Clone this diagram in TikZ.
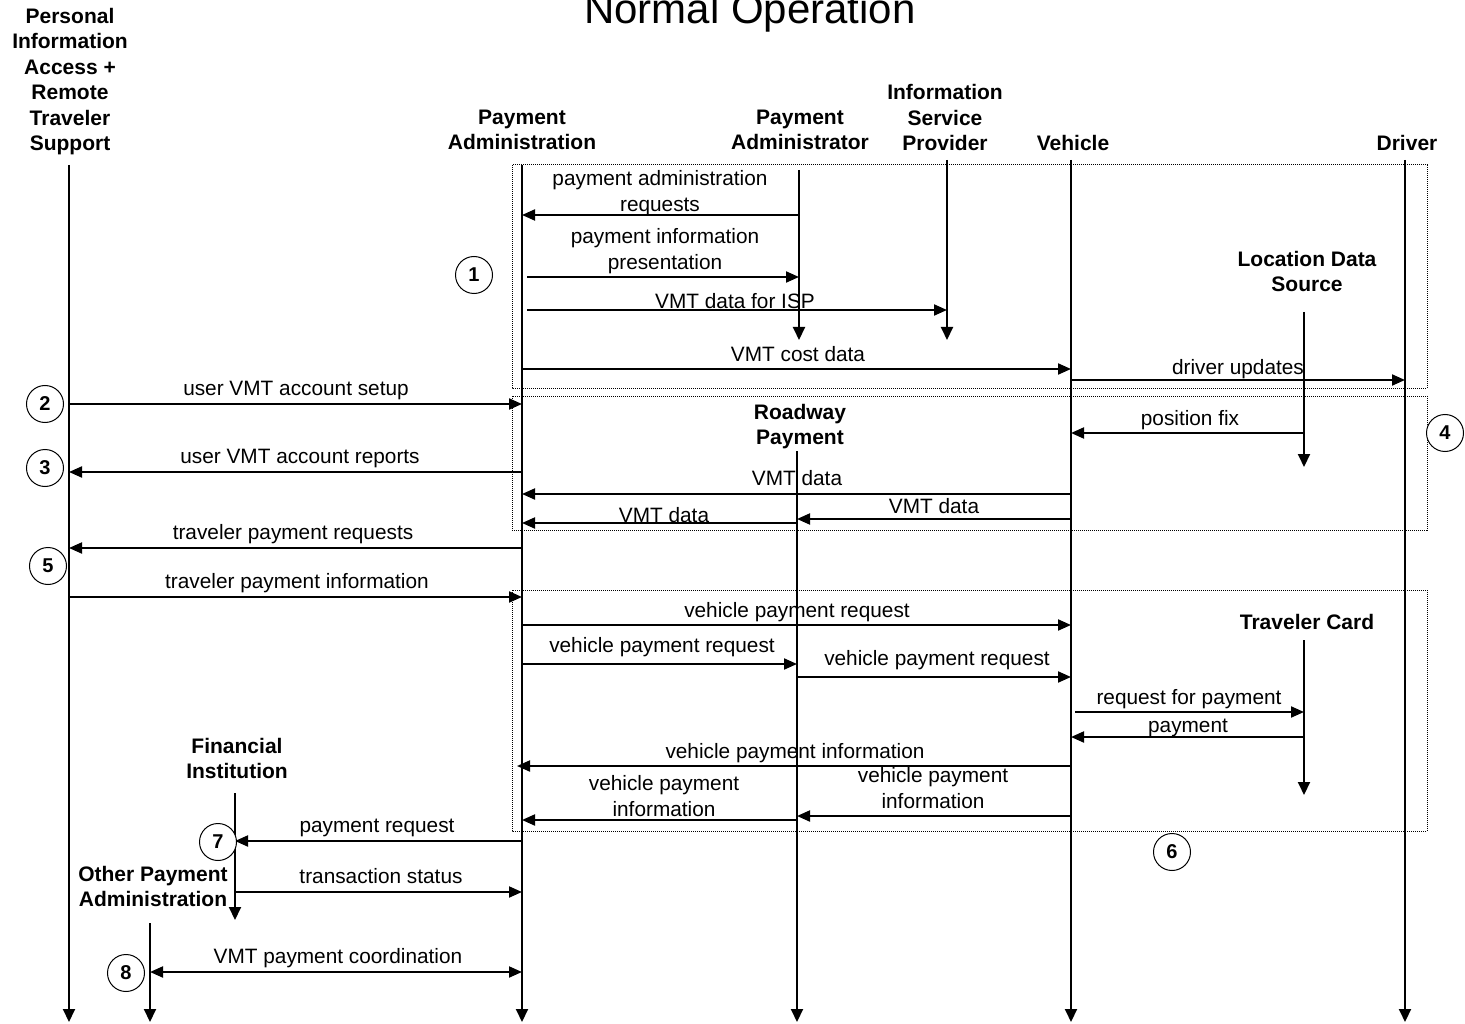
\documentclass[tikz,border=0pt]{standalone}
\usepackage{fontspec}
\setmainfont{Liberation Sans}
\usetikzlibrary{arrows.meta}

\newcommand\hdrfont{\fontsize{21}{25.5}\selectfont\bfseries}
\newcommand\lblfont{\fontsize{20.8}{25.8}\selectfont}

\tikzset{
  life/.style={line width=2pt, -{Triangle[length=13pt,width=12pt]}},
  msg/.style={line width=2pt, -{Triangle[length=13pt,width=11pt]}},
  bimsg/.style={line width=2pt, {Triangle[length=13pt,width=11pt]}-{Triangle[length=13pt,width=11pt]}},
  grp/.style={densely dotted, line width=1pt},
  hdr/.style={font=\hdrfont, align=center, inner sep=0pt, anchor=north,
    yshift=17.85pt, execute at begin node=\strut},
  lbl/.style={font=\lblfont, align=center, inner sep=0pt, anchor=north,
    yshift=18.06pt, execute at begin node=\strut},
  num/.style={circle, draw, line width=1pt, minimum size=37pt, inner sep=0pt,
    fill=white, font=\fontsize{20}{21}\selectfont\bfseries},
}

\begin{document}
\begin{tikzpicture}[x=1pt, y=-1pt]
\useasboundingbox (0,0) rectangle (1465,1024);
\clip (0,0) rectangle (1465,1024);

% title
\node[font=\fontsize{42}{48}\selectfont, anchor=base] (title) at (750,24) {Normal Operation};

% grouping frames
\draw[grp] (512,165) rectangle (1427,388);
\draw[grp] (512,396) rectangle (1427,530);
\draw[grp] (512,590) rectangle (1427,831);

% participants
\node[hdr] (pia)  at (70,25.5)    {Personal\\Information\\Access +\\Remote\\Traveler\\Support};
\node[hdr] (pa)   at (522,127.5)  {Payment\\Administration};
\node[hdr] (padm) at (800,127.5)  {Payment\\Administrator};
\node[hdr] (isp)  at (945,102)    {Information\\Service\\Provider};
\node[hdr] (veh)  at (1073,150.5) {Vehicle};
\node[hdr] (drv)  at (1407,150.5) {Driver};
\node[hdr] (lds)  at (1307,268.5) {Location Data\\Source};
\node[hdr] (rp)   at (800,421.5)  {Roadway\\Payment};
\node[hdr] (tc)   at (1307,629.5) {Traveler Card};
\node[hdr] (fi)   at (237,755.5)  {Financial\\Institution};
\node[hdr] (opa)  at (153,883.5)  {Other Payment\\Administration};

% lifeline ends
\coordinate (pia-t)  at (69,165);   \coordinate (pia-b)  at (69,1022);
\coordinate (pa-t)   at (522,165);  \coordinate (pa-b)   at (522,1022);
\coordinate (padm-t) at (799,170);  \coordinate (padm-b) at (799,340);
\coordinate (isp-t)  at (947,160);  \coordinate (isp-b)  at (947,340);
\coordinate (veh-t)  at (1071,160); \coordinate (veh-b)  at (1071,1022);
\coordinate (drv-t)  at (1405,160); \coordinate (drv-b)  at (1405,1022);
\coordinate (lds-t)  at (1304,312); \coordinate (lds-b)  at (1304,467);
\coordinate (rp-t)   at (797,451);  \coordinate (rp-b)   at (797,1022);
\coordinate (tc-t)   at (1304,640); \coordinate (tc-b)   at (1304,795);
\coordinate (fi-t)   at (235,793);  \coordinate (fi-b)   at (235,920);
\coordinate (opa-t)  at (150,923);  \coordinate (opa-b)  at (150,1022);

% lifelines
\foreach \p in {pia,pa,padm,isp,veh,drv,lds,rp,tc,fi,opa}
  \draw[life] (\p-t) -- (\p-b);

% messages
\draw[msg] (padm-t |- 0,215) -- (pa-t |- 0,215);
\node[lbl] (m1) at (660,188) {payment administration\\requests};

\draw[msg] ([xshift=5pt]pa-t |- 0,277) -- (padm-t |- 0,277);
\node[lbl] (m2) at (665,246) {payment information\\presentation};

\draw[msg] ([xshift=5pt]pa-t |- 0,310) -- (isp-t |- 0,310);
\node[lbl] (m3) at (735,308) {VMT data for ISP};

\draw[msg] (pa-t |- 0,369) -- (veh-t |- 0,369);
\node[lbl] (m4) at (798,361) {VMT cost data};

\draw[msg] (veh-t |- 0,380) -- (drv-t |- 0,380);
\node[lbl] (m5) at (1238,374) {driver updates};

\draw[msg] (pia-t |- 0,404) -- (pa-t |- 0,404);
\node[lbl] (m6) at (296,395) {user VMT account setup};

\draw[msg] (lds-t |- 0,433) -- (veh-t |- 0,433);
\node[lbl] (m7) at (1190,425) {position fix};

\draw[msg] (pa-t |- 0,472) -- (pia-t |- 0,472);
\node[lbl] (m8) at (300,463) {user VMT account reports};

\draw[msg] (veh-t |- 0,494) -- (pa-t |- 0,494);
\node[lbl] (m9) at (797,485) {VMT data};

\draw[msg] (veh-t |- 0,519) -- (rp-t |- 0,519);
\node[lbl] (m10) at (934,513) {VMT data};

\draw[msg] (rp-t |- 0,523) -- (pa-t |- 0,523);
\node[lbl] (m11) at (664,522) {VMT data};

\draw[msg] (pa-t |- 0,548) -- (pia-t |- 0,548);
\node[lbl] (m12) at (293,539) {traveler payment requests};

\draw[msg] (pia-t |- 0,597) -- (pa-t |- 0,597);
\node[lbl] (m13) at (297,588) {traveler payment information};

\draw[msg] (pa-t |- 0,625) -- (veh-t |- 0,625);
\node[lbl] (m14) at (797,617) {vehicle payment request};

\draw[msg] (pa-t |- 0,664) -- (rp-t |- 0,664);
\node[lbl] (m15) at (662,652) {vehicle payment request};

\draw[msg] (rp-t |- 0,677) -- (veh-t |- 0,677);
\node[lbl] (m16) at (937,665) {vehicle payment request};

\draw[msg] ([xshift=4pt]veh-t |- 0,712) -- (tc-t |- 0,712);
\node[lbl] (m17) at (1189,704) {request for payment};

\draw[msg] (tc-t |- 0,737) -- (veh-t |- 0,737);
\node[lbl] (m18) at (1188,732) {payment};

\draw[msg] (veh-t |- 0,766) -- ([xshift=-5pt]pa-t |- 0,766);
\node[lbl] (m19) at (795,758) {vehicle payment information};

\draw[msg] (veh-t |- 0,816) -- (rp-t |- 0,816);
\node[lbl] (m20) at (933,785) {vehicle payment\\information};

\draw[msg] (rp-t |- 0,820) -- (pa-t |- 0,820);
\node[lbl] (m21) at (664,793) {vehicle payment\\information};

\draw[msg] (pa-t |- 0,841) -- (fi-t |- 0,841);
\node[lbl] (m22) at (377,832) {payment request};

\draw[msg] (fi-t |- 0,892) -- (pa-t |- 0,892);
\node[lbl] (m23) at (381,883) {transaction status};

\draw[bimsg] (opa-t |- 0,972) -- (pa-t |- 0,972);
\node[lbl] (m24) at (338,963) {VMT payment coordination};

% step numbers
\node[num] (n1) at (474,275)  {1};
\node[num] (n2) at (45,404)   {2};
\node[num] (n3) at (45,468)   {3};
\node[num] (n4) at (1445,433) {4};
\node[num] (n5) at (48,566)   {5};
\node[num] (n6) at (1172,852) {6};
\node[num] (n7) at (218,842)  {7};
\node[num] (n8) at (126,973)  {8};
\end{tikzpicture}
\end{document}
